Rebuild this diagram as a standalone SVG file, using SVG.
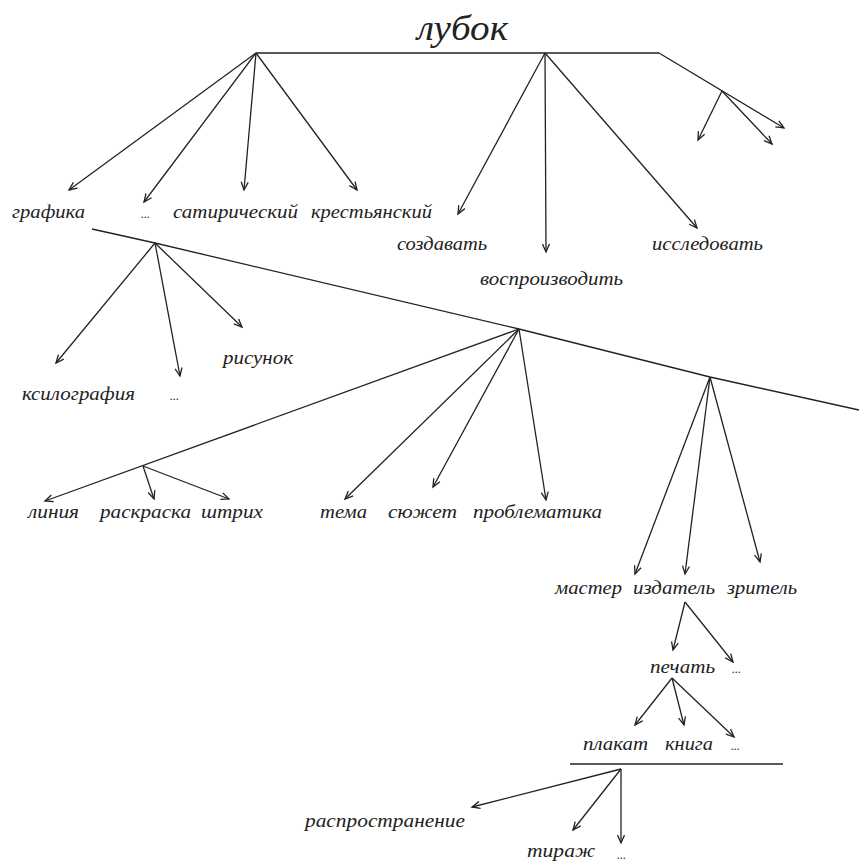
<svg xmlns="http://www.w3.org/2000/svg" width="859" height="863" viewBox="0 0 859 863">
<defs>
<marker id="arr" markerUnits="userSpaceOnUse" markerWidth="14" markerHeight="14" refX="0" refY="0" viewBox="-10 -7 12 14" orient="auto">
<path d="M-8,-3.5 L0,0 L-8,3.5" fill="none" stroke="#222" stroke-width="1.3"/>
</marker>
</defs>
<style>
.c{stroke:#222;stroke-width:1.3;fill:none}
.a{marker-end:url(#arr)}
text{font-family:"Liberation Serif","DejaVu Serif",serif;font-style:italic;fill:#222;font-size:19px}
.t{font-size:36px}
.d{font-size:12px}
</style>
<rect width="859" height="863" fill="#fff"/>
<g id="connectors">
<polyline class="c" points="256,53 659,53"/>
<line class="c a" x1="659" y1="53" x2="784" y2="128"/>
<line class="c a" x1="722" y1="91" x2="698" y2="140"/>
<line class="c a" x1="722" y1="91" x2="772" y2="144"/>
<line class="c a" x1="256" y1="53" x2="69" y2="190"/>
<line class="c a" x1="256" y1="53" x2="144" y2="202"/>
<line class="c a" x1="256" y1="53" x2="244" y2="190"/>
<line class="c a" x1="256" y1="53" x2="357" y2="190"/>
<line class="c a" x1="545" y1="53" x2="458" y2="214"/>
<line class="c a" x1="545" y1="53" x2="546" y2="252"/>
<line class="c a" x1="545" y1="53" x2="697" y2="228"/>
<polyline class="c" points="92,229 155,243 519,329 710,377 859,410"/>
<line class="c a" x1="155" y1="243" x2="56" y2="363"/>
<line class="c a" x1="155" y1="243" x2="180" y2="376"/>
<line class="c a" x1="155" y1="243" x2="242" y2="327"/>
<line class="c a" x1="519" y1="329" x2="45" y2="501"/>
<line class="c a" x1="143" y1="466" x2="154" y2="499"/>
<line class="c a" x1="143" y1="466" x2="229" y2="499"/>
<line class="c a" x1="519" y1="329" x2="345" y2="499"/>
<line class="c a" x1="519" y1="329" x2="433" y2="487"/>
<line class="c a" x1="519" y1="329" x2="546" y2="500"/>
<line class="c a" x1="710" y1="377" x2="635" y2="574"/>
<line class="c a" x1="710" y1="377" x2="685" y2="574"/>
<line class="c a" x1="710" y1="377" x2="760" y2="562"/>
<line class="c a" x1="685" y1="602" x2="673" y2="650"/>
<line class="c a" x1="685" y1="602" x2="733" y2="662"/>
<line class="c a" x1="672" y1="678" x2="635" y2="725"/>
<line class="c a" x1="672" y1="678" x2="684" y2="725"/>
<line class="c a" x1="672" y1="678" x2="734" y2="737"/>
<line class="c" x1="570" y1="764" x2="783" y2="764"/>
<line class="c a" x1="621" y1="769" x2="472" y2="807"/>
<line class="c a" x1="621" y1="769" x2="573" y2="830"/>
<line class="c a" x1="621" y1="769" x2="621" y2="843"/>
</g>
<g id="n-lubok"><text class="t" x="417" y="40" textLength="91" lengthAdjust="spacingAndGlyphs">лубок</text></g>
<g id="n-grafika"><text x="12" y="218" textLength="73" lengthAdjust="spacingAndGlyphs">графика</text></g>
<g id="n-dots1"><text class="d" x="141" y="218">...</text></g>
<g id="n-satir"><text x="173" y="218" textLength="125" lengthAdjust="spacingAndGlyphs">сатирический</text></g>
<g id="n-krest"><text x="311" y="218" textLength="121" lengthAdjust="spacingAndGlyphs">крестьянский</text></g>
<g id="n-sozd"><text x="397" y="250" textLength="90" lengthAdjust="spacingAndGlyphs">создавать</text></g>
<g id="n-vospr"><text x="480" y="285" textLength="143" lengthAdjust="spacingAndGlyphs">воспроизводить</text></g>
<g id="n-issled"><text x="652" y="250" textLength="111" lengthAdjust="spacingAndGlyphs">исследовать</text></g>
<g id="n-ksilo"><text x="22" y="400" textLength="113" lengthAdjust="spacingAndGlyphs">ксилография</text></g>
<g id="n-dots2"><text class="d" x="170" y="400">...</text></g>
<g id="n-risunok"><text x="223" y="364" textLength="70" lengthAdjust="spacingAndGlyphs">рисунок</text></g>
<g id="n-liniya"><text x="28" y="518" textLength="51" lengthAdjust="spacingAndGlyphs">линия</text></g>
<g id="n-raskraska"><text x="100" y="518" textLength="91" lengthAdjust="spacingAndGlyphs">раскраска</text></g>
<g id="n-shtrih"><text x="201" y="518" textLength="62" lengthAdjust="spacingAndGlyphs">штрих</text></g>
<g id="n-tema"><text x="320" y="518" textLength="47" lengthAdjust="spacingAndGlyphs">тема</text></g>
<g id="n-syuzhet"><text x="388" y="518" textLength="69" lengthAdjust="spacingAndGlyphs">сюжет</text></g>
<g id="n-problem"><text x="473" y="518" textLength="129" lengthAdjust="spacingAndGlyphs">проблематика</text></g>
<g id="n-master"><text x="555" y="594" textLength="67" lengthAdjust="spacingAndGlyphs">мастер</text></g>
<g id="n-izdatel"><text x="633" y="594" textLength="82" lengthAdjust="spacingAndGlyphs">издатель</text></g>
<g id="n-zritel"><text x="727" y="594" textLength="70" lengthAdjust="spacingAndGlyphs">зритель</text></g>
<g id="n-pechat"><text x="650" y="673" textLength="65" lengthAdjust="spacingAndGlyphs">печать</text></g>
<g id="n-dots3"><text class="d" x="732" y="673">...</text></g>
<g id="n-plakat"><text x="583" y="750" textLength="65" lengthAdjust="spacingAndGlyphs">плакат</text></g>
<g id="n-kniga"><text x="665" y="750" textLength="48" lengthAdjust="spacingAndGlyphs">книга</text></g>
<g id="n-dots4"><text class="d" x="731" y="750">...</text></g>
<g id="n-rasprostr"><text x="305" y="827" textLength="160" lengthAdjust="spacingAndGlyphs">распространение</text></g>
<g id="n-tirazh"><text x="527" y="857" font-size="18" textLength="68" lengthAdjust="spacingAndGlyphs">тираж</text></g>
<g id="n-dots5"><text class="d" x="617" y="859">...</text></g>
</svg>
